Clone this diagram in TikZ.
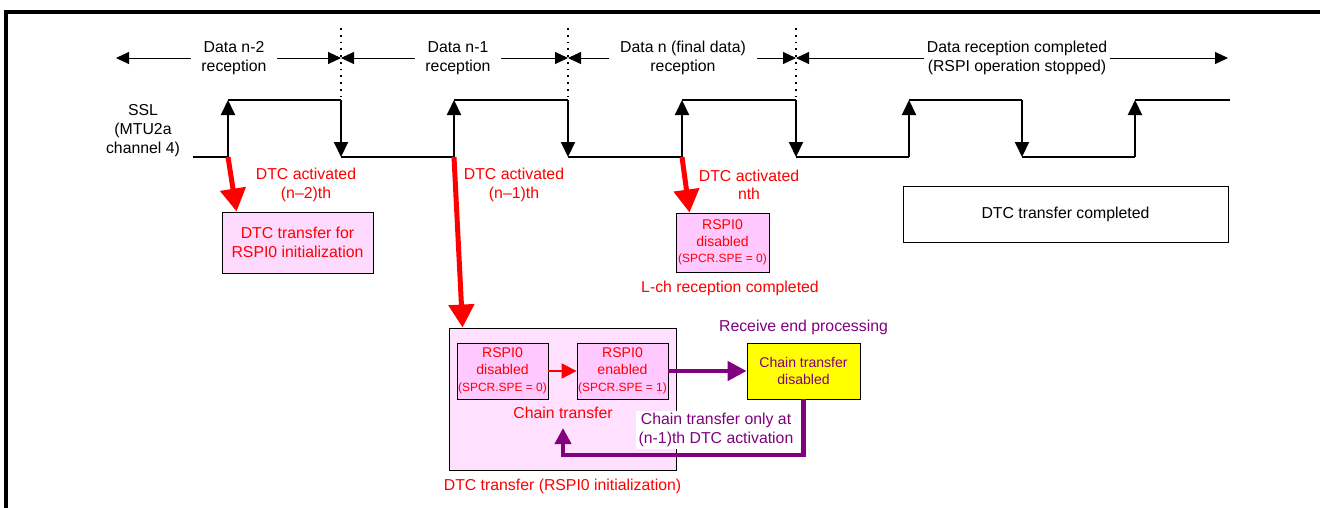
\documentclass[tikz,border=0pt]{standalone}
\usepackage{fontspec}
\setmainfont{Liberation Sans}
\usetikzlibrary{arrows.meta, positioning}

\definecolor{dtcred}{RGB}{255,0,0}
\definecolor{endpurple}{RGB}{128,0,128}
\definecolor{pinklight}{RGB}{255,224,255}
\definecolor{pinkfill}{RGB}{255,218,255}
\definecolor{pinkbox}{RGB}{255,200,255}
\definecolor{chainyellow}{RGB}{255,255,0}

\tikzset{
  txt/.style={align=center, font=\fontsize{9}{10.5}\selectfont},
  redtxt/.style={txt, text=dtcred},
  purpletxt/.style={txt, text=endpurple},
  span/.style={line width=0.2mm, -{Triangle[length=2.6mm, width=2.4mm]}},
  sep/.style={line width=0.35mm, dash pattern=on 0.35mm off 1mm},
  wave/.style={line width=0.4mm},
  waveedge/.style={wave, -{Triangle[length=3mm, width=2.8mm]}},
  trig/.style={dtcred, line width=1mm, -{Triangle[length=4.6mm, width=5mm]}},
  chainred/.style={dtcred, line width=0.4mm, -{Triangle[length=3mm, width=3mm]}},
  endarrow/.style={endpurple, line width=0.9mm, -{Triangle[length=3.8mm, width=3.8mm]}},
  backarrow/.style={endpurple, line width=0.9mm, -{Triangle[length=3.2mm, width=3.2mm]}},
  regbox/.style={draw, line width=0.5pt, fill=pinkbox, text=dtcred, inner sep=0.5pt, align=center,
    minimum width=18.2mm, minimum height=11.2mm, font=\fontsize{8}{9.5}\selectfont},
}
\newcommand{\spe}[1]{{\fontsize{6.8}{8}\selectfont(SPCR.SPE = #1)}}

\begin{document}
\begin{tikzpicture}[x=0.2mm, y=-0.2mm]
    \useasboundingbox (0,0) rectangle (1320,507);
    % frame
    \draw[line width=0.7mm] (6,520) -- (6,12) -- (1330,12);

    % reception periods
    \node[txt, inner xsep=6pt] (rxA) at (234,58) {Data n-2\\reception};
    \node[txt, inner xsep=6pt] (rxB) at (458,58) {Data n-1\\reception};
    \node[txt, inner xsep=6pt] (rxC) at (683,58) {Data n (final data)\\reception};
    \node[txt, inner xsep=1.5pt] (rxD) at (1017,58) {Data reception completed\\(RSPI operation stopped)};
    \coordinate (t0) at (116,58);
    \coordinate (t1) at (341,58);
    \coordinate (t2) at (568,58);
    \coordinate (t3) at (796,58);
    \coordinate (t4) at (1228,58);
    \draw[span] (rxA) -- (t0);
    \draw[span] (rxA) -- (t1);
    \draw[span] (rxB) -- (t1);
    \draw[span] (rxB) -- (t2);
    \draw[span] (rxC) -- (t2);
    \draw[span] (rxC) -- (t3);
    \draw[span] (rxD) -- (t3);
    \draw[span] (rxD) -- (t4);
    \foreach \x in {341,568,796}
        \draw[sep] (\x,28) -- (\x,100);

    % SSL waveform
    \node[txt, font=\fontsize{9}{10.8}\selectfont] (ssl) at (143,131) {SSL\\(MTU2a\\channel 4)};
    \draw[wave] (193,157) -- (228,157);
    \foreach \r/\f/\n in {228/341/454, 454/568/682, 682/796/909, 909/1022/1135} {
        \draw[waveedge] (\r,157) -- (\r,100);
        \draw[wave] (\r,100) -- (\f,100);
        \draw[waveedge] (\f,100) -- (\f,157);
        \draw[wave] (\f,157) -- (\n,157);
    }
    \draw[waveedge] (1135,157) -- (1135,100);
    \draw[wave] (1135,100) -- (1230,100);

    % DTC activations
    \node[redtxt] (act1) at (306,185) {DTC activated\\(n–2)th};
    \node[redtxt] (act2) at (514,185) {DTC activated\\(n–1)th};
    \node[redtxt] (act3) at (749,185) {DTC activated\\nth};

    \node[draw, line width=0.5pt, fill=pinkfill, redtxt, minimum width=30.2mm, minimum height=12.2mm] (init1) at (297.5,242.5) {DTC transfer for\\RSPI0 initialization};
    \node[regbox, minimum width=18.6mm, minimum height=11.8mm] (off3) at (722.5,242.5) {RSPI0\\disabled\\\spe{0}};
    \node[redtxt] (lch) at (730,288) {L-ch reception completed};

    \node[draw, line width=0.5pt, fill=pinklight, minimum width=45.4mm, minimum height=28.4mm] (init2) at (562.5,399) {};
    \node[regbox] (offA) at (502.5,371) {RSPI0\\disabled\\\spe{0}};
    \node[regbox] (onB) at (622.5,371) {RSPI0\\enabled\\\spe{1}};
    \node[redtxt] (chain) at (563,413) {Chain transfer};
    \node[redtxt, below=0.5mm of init2] (init2lbl) {DTC transfer (RSPI0 initialization)};

    \node[draw, line width=0.5pt, fill=chainyellow, text=endpurple, align=center, font=\fontsize{8}{9.5}\selectfont,
        minimum width=22.6mm, minimum height=11.2mm] (stop) at (803.5,371) {Chain transfer\\disabled};
    \node[purpletxt, above=0.3mm of stop] (recv) {Receive end processing};
    \node[purpletxt, fill=white, inner sep=1.5pt] (only) at (716,430) {Chain transfer only at\\(n-1)th DTC activation};

    \node[draw, line width=0.5pt, txt, minimum width=65mm, minimum height=11.2mm] (done) at (1065.5,214) {DTC transfer completed};

    % connectors
    \coordinate (up1) at (228,157);
    \coordinate (up2) at (454,157);
    \coordinate (up3) at (682,157);
    \draw[trig] (up1) -- ([xshift=3mm]init1.north west);
    \draw[trig] (up2) -- ([xshift=2.8mm]init2.north west);
    \draw[trig] (up3) -- ([xshift=2.8mm]off3.north west);
    \draw[chainred] (offA) -- (onB);
    \draw[endarrow] (onB) -- (stop);
    \coordinate (back) at (563,455);
    \coordinate (chainin) at (563,428);
    \draw[backarrow] (stop.south) |- (back) -- (chainin);
\end{tikzpicture}
\end{document}
